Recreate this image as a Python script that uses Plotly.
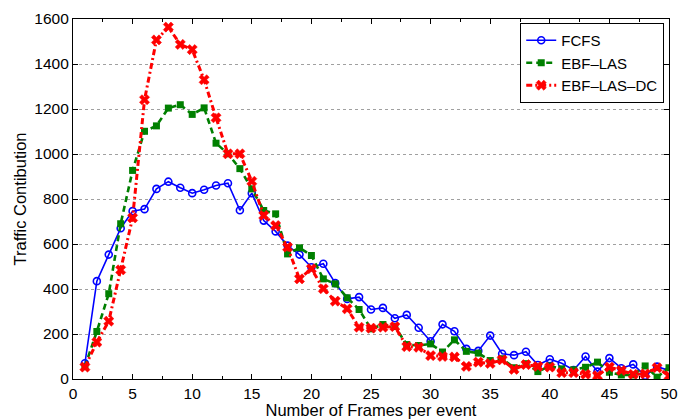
import plotly.graph_objects as go

# Number of frames per event
frames = list(range(1, 51))

fcfs = [70, 435, 553, 670, 746, 755, 845, 877, 850, 826,
        841, 860, 870, 750, 826, 704, 656, 593, 553, 497,
        512, 426, 356, 364, 309, 316, 270, 285, 228, 168,
        243, 212, 134, 125, 193, 112, 106, 121, 62, 88,
        70, 40, 100, 33, 93, 48, 65, 14, 55, 38]

ebf_las = [55, 211, 379, 690, 927, 1101, 1125, 1204, 1219, 1176,
           1205, 1048, 1001, 935, 845, 749, 734, 556, 583, 549,
           445, 423, 361, 309, 223, 242, 233, 153, 149, 156,
           120, 174, 123, 115, 82, 90, 50, 68, 33, 58,
           45, 41, 52, 75, 30, 18, 18, 58, 8, 50]

ebf_las_dc = [53, 164, 257, 485, 716, 1241, 1507, 1564, 1487, 1464,
              1330, 1161, 1001, 1001, 879, 727, 682, 586, 445, 490,
              401, 346, 312, 230, 226, 230, 233, 144, 141, 104,
              100, 98, 56, 75, 69, 85, 43, 64, 56, 53,
              28, 28, 21, 15, 53, 38, 21, 23, 50, 14]

series_names = ["FCFS", "EBF\u2013LAS", "EBF\u2013LAS\u2013DC"]

x_ticks = [0, 5, 10, 15, 20, 25, 30, 35, 40, 45, 50]
y_ticks = [0, 200, 400, 600, 800, 1000, 1200, 1400, 1600]

FONT = "Liberation Sans, Arial, sans-serif"

fig = go.Figure()

fig.add_trace(go.Scatter(
    x=frames, y=fcfs, name=series_names[0], mode="lines+markers",
    line=dict(color="#0000ff", width=1.6, dash="solid"),
    marker=dict(symbol="circle-open", size=7, color="#0000ff",
                line=dict(width=1.6, color="#0000ff")),
))

fig.add_trace(go.Scatter(
    x=frames, y=ebf_las, name=series_names[1], mode="lines+markers",
    line=dict(color="#007f00", width=2.6, dash="6px,4px"),
    marker=dict(symbol="square", size=7, color="#008000",
                line=dict(width=0)),
))

fig.add_trace(go.Scatter(
    x=frames, y=ebf_las_dc, name=series_names[2], mode="lines+markers",
    line=dict(color="#ff0000", width=3, dash="6px,3px,2px,3px"),
    marker=dict(symbol="x", size=9, color="#ff0000",
                line=dict(width=0.5, color="#ff0000")),
))

fig.update_layout(
    width=678, height=419,
    margin=dict(l=73, r=9, t=19, b=40),
    paper_bgcolor="white", plot_bgcolor="white",
    font=dict(family=FONT, size=16, color="black"),
    showlegend=True,
    legend=dict(
        x=0.992, y=0.989, xanchor="right", yanchor="top",
        bgcolor="white", bordercolor="black", borderwidth=1,
        font=dict(family=FONT, size=15, color="black"),
        itemwidth=30, tracegroupgap=0,
    ),
)

fig.update_xaxes(
    range=[0, 50], tickvals=x_ticks, ticktext=[str(v) for v in x_ticks],
    ticks="inside", ticklen=5, tickwidth=1, tickcolor="black",
    showline=True, linecolor="black", linewidth=1.2, mirror="ticks",
    showgrid=False, zeroline=False, automargin=False,
    minor=dict(ticks="inside", ticklen=3, dtick=2.5, tickcolor="black", showgrid=False),
    title=dict(text="Number of Frames per event", font=dict(size=16.5), standoff=3),
    tickfont=dict(size=15.5),
)

fig.update_yaxes(
    range=[0, 1600], tickvals=y_ticks, ticktext=[str(v) for v in y_ticks],
    ticks="inside", ticklen=5, tickwidth=1, tickcolor="black",
    showline=True, linecolor="black", linewidth=1.2, mirror="ticks",
    showgrid=True, gridcolor="#a0a0a0", griddash="dot", gridwidth=1,
    zeroline=False, automargin=False,
    title=dict(text="Traffic Contibution", font=dict(size=16.5), standoff=3),
    tickfont=dict(size=15.5),
)

fig.write_html("out.html")
